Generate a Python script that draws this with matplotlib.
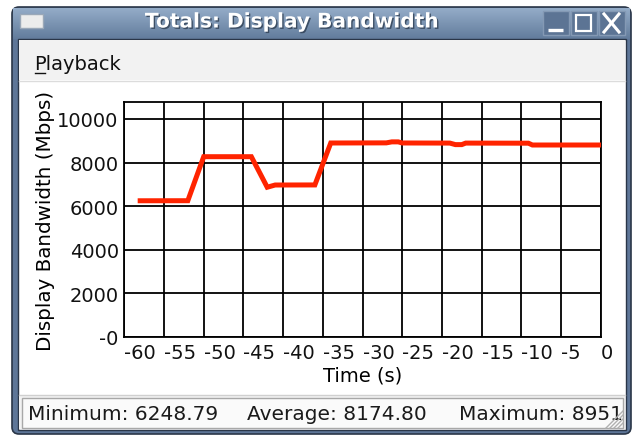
import numpy as np
import matplotlib
matplotlib.use("Agg")
import matplotlib.pyplot as plt
from matplotlib.patches import Rectangle, FancyBboxPatch
import matplotlib.patheffects as pe

# data (time in s, bandwidth in Mbps)
times = [-58, -52, -50, -44, -42, -41, -36, -34, -27, -26.3, -25.5, -25,
         -19, -18.3, -17.5, -17, -9.1, -8.6, 0]
bandwidth = [6249, 6252, 8271, 8271, 6870, 6972, 6975, 8899, 8905, 8951, 8951, 8900,
             8895, 8825, 8825, 8895, 8890, 8807, 8807]
x_ticks = [-60, -55, -50, -45, -40, -35, -30, -25, -20, -15, -10, -5, 0]
y_ticks = [0, 2000, 4000, 6000, 8000, 10000]
y_tick_labels = ["-0", "2000", "4000", "6000", "8000", "10000"]
title = "Totals: Display Bandwidth"
stats = [("Minimum: 6248.79", 28), ("Average: 8174.80", 247), ("Maximum: 8951", 459)]

W, H = 636, 439
fig = plt.figure(figsize=(W / 100, H / 100), dpi=100)
fig.patch.set_facecolor("white")

# background axes in pixel coords for the window chrome
bg = fig.add_axes([0, 0, 1, 1])
bg.set_xlim(0, W)
bg.set_ylim(H, 0)
bg.axis("off")

# outer frame
bg.add_patch(FancyBboxPatch((12, 8), 619, 427, boxstyle="round,pad=0,rounding_size=7",
                            fc="#5e7698", ec="#2a3648", lw=1.2))
# title bar gradient
grad = np.linspace(0, 1, 64).reshape(-1, 1)
bg.imshow(grad, extent=(13, 630, 40, 9), cmap=matplotlib.colors.LinearSegmentedColormap.from_list(
    "tb", ["#94acc8", "#627c9c"]), aspect="auto", zorder=1)
# window icon
bg.add_patch(Rectangle((20, 15), 23, 14, fc="#ececec", ec="#9aa8b8", lw=1, zorder=2))
bg.text(292, 23, title, color="white", fontsize=14.5, fontweight="bold", ha="center", va="center",
        zorder=3, path_effects=[pe.SimplePatchShadow(offset=(1, -1), shadow_rgbFace="#2e3e52", alpha=0.8),
                                pe.Normal()])
# title buttons
for bx in [543, 571, 599]:
    bg.add_patch(Rectangle((bx, 12), 26, 24, fc="#5c7494", ec="#8499b4", lw=1, zorder=2))
bg.plot([548, 563], [31, 31], color="white", lw=2.4, zorder=3, solid_capstyle="butt")
bg.add_patch(Rectangle((576, 15.5), 15, 16, fc="none", ec="white", lw=1.6, zorder=3))
bg.plot([604, 619], [15, 33], color="white", lw=2.2, zorder=3)
bg.plot([604, 619], [33, 15], color="white", lw=2.2, zorder=3)

# client area
bg.add_patch(Rectangle((18, 40), 608, 391, fc="white", ec="#2a3648", lw=1, zorder=2))
# menu bar
bg.add_patch(Rectangle((19, 41), 606, 40, fc="#f2f2f2", ec="none", zorder=3))
bg.plot([19, 625], [81.5, 81.5], color="#dcdcdc", lw=1, zorder=3)
bg.text(34, 64, "Playback", fontsize=14, ha="left", va="center", color="#111111", zorder=4)
bg.plot([35, 45], [73.5, 73.5], color="#111111", lw=1, zorder=4)

# status bar
bg.add_patch(Rectangle((19, 396), 606, 34, fc="#f2f2f2", ec="none", zorder=3))
bg.plot([19, 625], [396.5, 396.5], color="#d0d0d0", lw=1, zorder=3)
bg.add_patch(Rectangle((22, 399), 601, 30, fc="#fafafa", ec="#a8a8a8", lw=1, zorder=3))
clip = Rectangle((22, 399), 597, 30, transform=bg.transData)
for txt, xs in stats:
    t = bg.text(xs, 415, txt, fontsize=14.5, ha="left", va="center", color="#1a1a1a", zorder=4)
    t.set_clip_path(clip)
for k in range(4):
    bg.plot([606 + k * 4, 623], [429, 412 + k * 4], color="#b0b0b0", lw=1, zorder=5)

# the chart itself
left, right, top, bottom = 124.3, 600.7, 103.3, 338.0
ax = fig.add_axes([left / W, 1 - bottom / H, (right - left) / W, (bottom - top) / H])
ax.set_facecolor("white")
ax.plot(times, bandwidth, color="#ff2400", lw=3.6, solid_joinstyle="miter", zorder=3)
ax.set_xlim(-60, 0)
ax.set_ylim(0, 10766)
ax.set_xticks(x_ticks)
ax.set_xticklabels([str(v) for v in x_ticks], ha="left")
ax.set_yticks(y_ticks)
ax.set_yticklabels(y_tick_labels)
ax.tick_params(length=0, labelsize=14, pad=4, colors="#111111")
ax.grid(True, color="black", lw=1.3)
for s in ax.spines.values():
    s.set_color("black")
    s.set_linewidth(1.3)
ax.set_xlabel("Time (s)", fontsize=14, labelpad=3)
ax.set_ylabel("Display Bandwidth (Mbps)", fontsize=14.3, labelpad=2)

fig.savefig("out.png", dpi=100)
